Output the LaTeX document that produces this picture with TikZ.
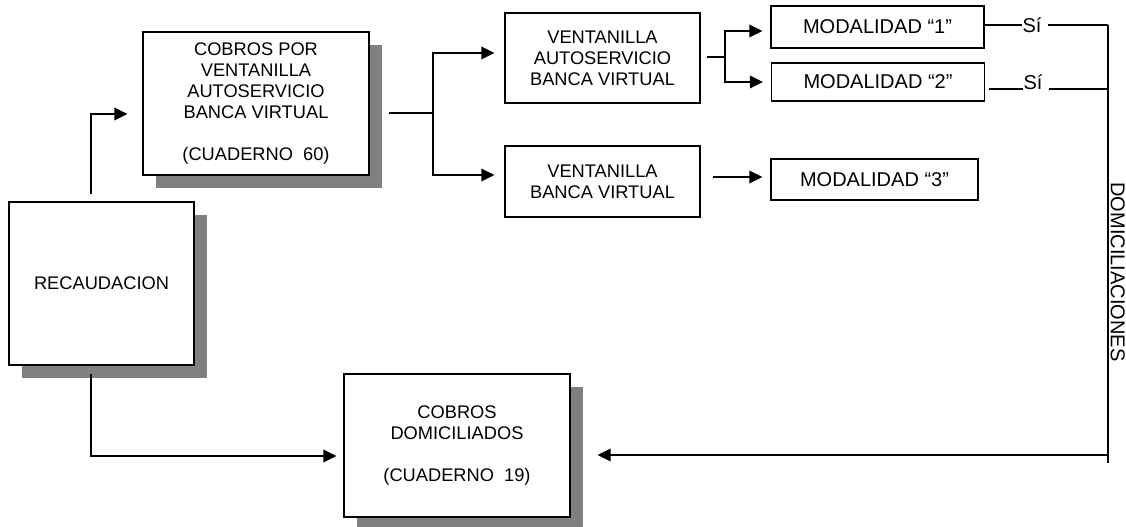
\documentclass[tikz,border=0pt]{standalone}
\usepackage{fontspec}
\setmainfont{Liberation Sans}
\usetikzlibrary{arrows.meta,shadows,calc}

\begin{document}
\begin{tikzpicture}[x=0.75pt,y=-0.75pt,
    caja/.style={draw,line width=1pt,fill=white,align=center,inner sep=0pt},
    sombra/.style={caja,drop shadow={shadow xshift=9.75pt,shadow yshift=-9.75pt,fill=black!50,opacity=1}},
    modo/.style={caja,font=\fontsize{15}{18}\selectfont},
    flecha/.style={line width=1pt,-{Triangle[length=9.75pt,width=9.5pt]}},
    linea/.style={line width=1pt},
    font=\fontsize{13.7}{15.7}\selectfont]
\useasboundingbox (0,0) rectangle (1126,527);

% boxes
\node[sombra,minimum width=169.5pt,minimum height=107.25pt] (cobros60) at (256,103.5)
    {COBROS POR\\VENTANILLA\\AUTOSERVICIO\\BANCA VIRTUAL\\[15.7pt](CUADERNO\ \ 60)};
\node[sombra,minimum width=138.75pt,minimum height=122.25pt] (recaud) at (101.5,283.5) {RECAUDACION};
\node[sombra,minimum width=169.5pt,minimum height=107.25pt] (cobros19) at (457,445.5)
    {COBROS\\DOMICILIADOS\\[15.7pt](CUADERNO\ \ 19)};
\node[caja,minimum width=146.25pt,minimum height=67.5pt] (vab) at (602.5,58) {VENTANILLA\\AUTOSERVICIO\\BANCA VIRTUAL};
\node[caja,minimum width=146.25pt,minimum height=53.25pt] (vbv) at (602.5,181.5) {VENTANILLA\\BANCA VIRTUAL};
\node[modo,minimum width=159.75pt,minimum height=31.5pt] (mod1) at (877.5,27) {MODALIDAD “1”};
\node[modo,minimum width=159.75pt,minimum height=28.5pt] (mod2) at (878,82) {MODALIDAD “2”};
\node[modo,minimum width=155.25pt,minimum height=30.75pt] (mod3) at (874.5,179.5) {MODALIDAD “3”};

% from RECAUDACION
\draw[flecha] ($(recaud.north)+(-10.5,-7)$) |- ($(cobros60.west)+(-15,10.5)$);
\draw[flecha] ($(recaud.south)+(-10.5,8)$) |- ($(cobros19.west)+(-7,10.5)$);

% ventanillas
\coordinate (split1) at (433,113);
\draw[linea] ($(cobros60.east)+(19,9.5)$) -- (split1);
\draw[flecha] (split1) |- ($(vab.west)+(-10,-5)$);
\draw[flecha] (split1) |- ($(vbv.west)+(-10,-6.5)$);

% modalidades
\coordinate (split2) at (725,57);
\draw[linea] ($(vab.east)+(6,-1)$) -- (split2);
\draw[flecha] (split2) |- ($(mod1.west)+(-8,4)$);
\draw[flecha] (split2) |- ($(mod2.west)+(-8,0)$);
\draw[flecha] ($(vbv.east)+(12,-4.5)$) -- ($(mod3.west)+(-8,-2.5)$);

% domiciliaciones
\coordinate (d1) at (1108,25);
\coordinate (d2) at (1108,89);
\coordinate (dflecha) at (1108,455);
\coordinate (dbot) at (1108,463);
\node[inner sep=0pt,anchor=base,font=\fontsize{15}{18}\selectfont] (si1) at (1032,33) {Sí};
\node[inner sep=0pt,anchor=base,font=\fontsize{15}{18}\selectfont] (si2) at (1033,90) {Sí};
\draw[linea] (mod1.east |- d1) -- (si1.west |- d1);
\draw[linea] ($(si1.east |- d1)+(6,0)$) -- (d1);
\draw[linea] ($(mod2.east |- d2)+(4,0)$) -- (si2.west |- d2);
\draw[linea] ($(si2.east |- d2)+(6,0)$) -- (d2);
\draw[linea] (d1) -- (dbot);
\node[rotate=-90,anchor=south,inner sep=1pt,font=\fontsize{15}{18}\selectfont] (domic) at (1109,272) {DOMICILIACIONES};
\draw[flecha] (dflecha) -- ($(cobros19.east |- dflecha)+(27,0)$);
\end{tikzpicture}
\end{document}
